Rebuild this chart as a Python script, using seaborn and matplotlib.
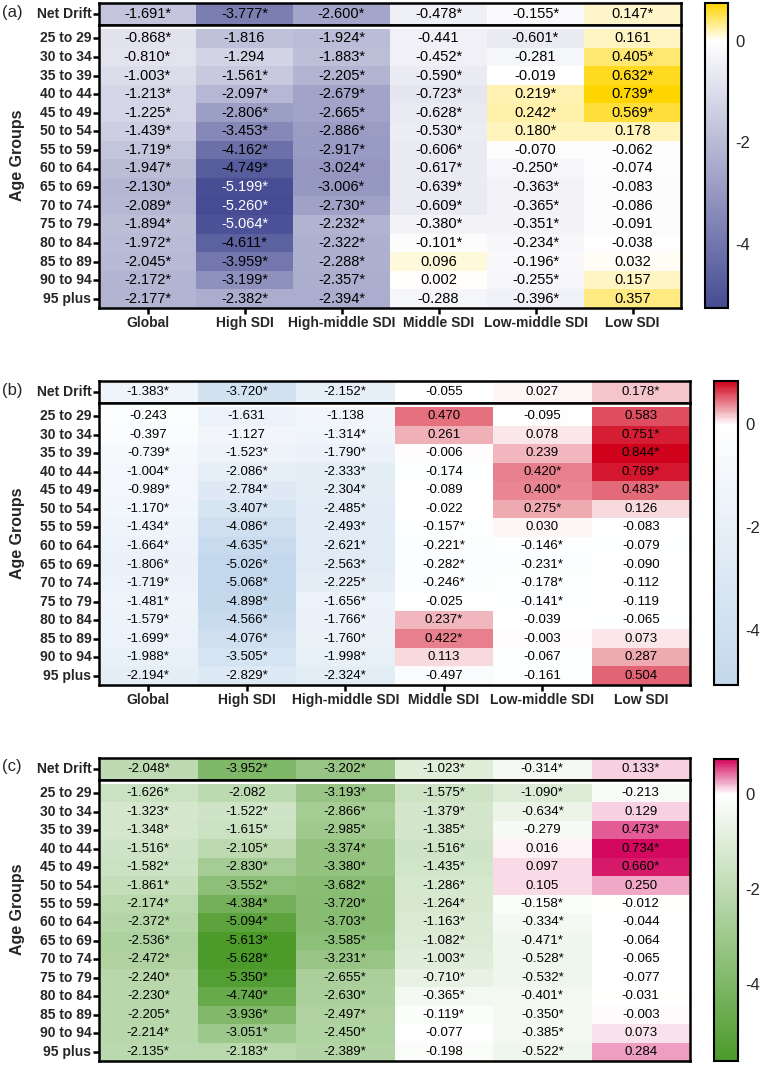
import numpy as np
import matplotlib
matplotlib.use('Agg')
import matplotlib.pyplot as plt
import seaborn as sns
from matplotlib.colors import LinearSegmentedColormap

# Data (annotation strings, * = significant)
columns = ['Global', 'High SDI', 'High-middle SDI', 'Middle SDI', 'Low-middle SDI', 'Low SDI']
age_groups = ['25 to 29', '30 to 34', '35 to 39', '40 to 44', '45 to 49', '50 to 54',
              '55 to 59', '60 to 64', '65 to 69', '70 to 74', '75 to 79', '80 to 84',
              '85 to 89', '90 to 94', '95 plus']

net_a = ['-1.691*', '-3.777*', '-2.600*', '-0.478*', '-0.155*', '0.147*']
ages_a = [
    ['-0.868*', '-1.816', '-1.924*', '-0.441', '-0.601*', '0.161'],
    ['-0.810*', '-1.294', '-1.883*', '-0.452*', '-0.281', '0.405*'],
    ['-1.003*', '-1.561*', '-2.205*', '-0.590*', '-0.019', '0.632*'],
    ['-1.213*', '-2.097*', '-2.679*', '-0.723*', '0.219*', '0.739*'],
    ['-1.225*', '-2.806*', '-2.665*', '-0.628*', '0.242*', '0.569*'],
    ['-1.439*', '-3.453*', '-2.886*', '-0.530*', '0.180*', '0.178'],
    ['-1.719*', '-4.162*', '-2.917*', '-0.606*', '-0.070', '-0.062'],
    ['-1.947*', '-4.749*', '-3.024*', '-0.617*', '-0.250*', '-0.074'],
    ['-2.130*', '-5.199*', '-3.006*', '-0.639*', '-0.363*', '-0.083'],
    ['-2.089*', '-5.260*', '-2.730*', '-0.609*', '-0.365*', '-0.086'],
    ['-1.894*', '-5.064*', '-2.232*', '-0.380*', '-0.351*', '-0.091'],
    ['-1.972*', '-4.611*', '-2.322*', '-0.101*', '-0.234*', '-0.038'],
    ['-2.045*', '-3.959*', '-2.288*', '0.096', '-0.196*', '0.032'],
    ['-2.172*', '-3.199*', '-2.357*', '0.002', '-0.255*', '0.157'],
    ['-2.177*', '-2.382*', '-2.394*', '-0.288', '-0.396*', '0.357'],
]

net_b = ['-1.383*', '-3.720*', '-2.152*', '-0.055', '0.027', '0.178*']
ages_b = [
    ['-0.243', '-1.631', '-1.138', '0.470', '-0.095', '0.583'],
    ['-0.397', '-1.127', '-1.314*', '0.261', '0.078', '0.751*'],
    ['-0.739*', '-1.523*', '-1.790*', '-0.006', '0.239', '0.844*'],
    ['-1.004*', '-2.086*', '-2.333*', '-0.174', '0.420*', '0.769*'],
    ['-0.989*', '-2.784*', '-2.304*', '-0.089', '0.400*', '0.483*'],
    ['-1.170*', '-3.407*', '-2.485*', '-0.022', '0.275*', '0.126'],
    ['-1.434*', '-4.086*', '-2.493*', '-0.157*', '0.030', '-0.083'],
    ['-1.664*', '-4.635*', '-2.621*', '-0.221*', '-0.146*', '-0.079'],
    ['-1.806*', '-5.026*', '-2.563*', '-0.282*', '-0.231*', '-0.090'],
    ['-1.719*', '-5.068*', '-2.225*', '-0.246*', '-0.178*', '-0.112'],
    ['-1.481*', '-4.898*', '-1.656*', '-0.025', '-0.141*', '-0.119'],
    ['-1.579*', '-4.566*', '-1.766*', '0.237*', '-0.039', '-0.065'],
    ['-1.699*', '-4.076*', '-1.760*', '0.422*', '-0.003', '0.073'],
    ['-1.988*', '-3.505*', '-1.998*', '0.113', '-0.067', '0.287'],
    ['-2.194*', '-2.829*', '-2.324*', '-0.497', '-0.161', '0.504'],
]

net_c = ['-2.048*', '-3.952*', '-3.202*', '-1.023*', '-0.314*', '0.133*']
ages_c = [
    ['-1.626*', '-2.082', '-3.193*', '-1.575*', '-1.090*', '-0.213'],
    ['-1.323*', '-1.522*', '-2.866*', '-1.379*', '-0.634*', '0.129'],
    ['-1.348*', '-1.615*', '-2.985*', '-1.385*', '-0.279', '0.473*'],
    ['-1.516*', '-2.105*', '-3.374*', '-1.516*', '0.016', '0.734*'],
    ['-1.582*', '-2.830*', '-3.380*', '-1.435*', '0.097', '0.660*'],
    ['-1.861*', '-3.552*', '-3.682*', '-1.286*', '0.105', '0.250'],
    ['-2.174*', '-4.384*', '-3.720*', '-1.264*', '-0.158*', '-0.012'],
    ['-2.372*', '-5.094*', '-3.703*', '-1.163*', '-0.334*', '-0.044'],
    ['-2.536*', '-5.613*', '-3.585*', '-1.082*', '-0.471*', '-0.064'],
    ['-2.472*', '-5.628*', '-3.231*', '-1.003*', '-0.528*', '-0.065'],
    ['-2.240*', '-5.350*', '-2.655*', '-0.710*', '-0.532*', '-0.077'],
    ['-2.230*', '-4.740*', '-2.630*', '-0.365*', '-0.401*', '-0.031'],
    ['-2.205*', '-3.936*', '-2.497*', '-0.119*', '-0.350*', '-0.003'],
    ['-2.214*', '-3.051*', '-2.450*', '-0.077', '-0.385*', '0.073'],
    ['-2.135*', '-2.183*', '-2.389*', '-0.198', '-0.522*', '0.284'],
]

W, H = 763, 1065


def rect(x0, y0, x1, y1):
    """Pixel box (top-left origin) -> figure fraction rect."""
    return [x0 / W, 1 - y1 / H, (x1 - x0) / W, (y1 - y0) / H]


def to_num(labels):
    return np.array([[float(s.rstrip('*')) for s in row] for row in labels])


def style_spines(ax):
    for s in ax.spines.values():
        s.set_visible(True)
        s.set_color('black')
        s.set_linewidth(1.8)


def draw_panel(fig, net, ages, neg_col, pos_col, box, cbox, tag, annot_size, show_x, white_below=None):
    left, right, top, sep, bottom = box
    net_vals = to_num([net])
    age_vals = to_num(ages)
    vmin = min(net_vals.min(), age_vals.min())
    vmax = max(net_vals.max(), age_vals.max())
    z = -vmin / (vmax - vmin)
    cmap = LinearSegmentedColormap.from_list(tag, [(0, neg_col), (z, 'white'), (1, pos_col)])

    ax_net = fig.add_axes(rect(left, top, right, sep))
    ax_age = fig.add_axes(rect(left, sep, right, bottom))
    cax = fig.add_axes(rect(*cbox))

    kw = dict(cmap=cmap, vmin=vmin, vmax=vmax, fmt='',
              annot_kws={'size': annot_size, 'color': 'black'})
    sns.heatmap(net_vals, annot=np.array([net]), ax=ax_net, cbar=False,
                xticklabels=False, yticklabels=['Net Drift'], **kw)
    sns.heatmap(age_vals, annot=np.array(ages), ax=ax_age, cbar=True, cbar_ax=cax,
                xticklabels=columns, yticklabels=age_groups, **kw)
    cbar = ax_age.collections[0].colorbar

    # white band under the separator line
    gap = 4.0
    rowh = (bottom - sep - gap) / 15
    ax_age.set_ylim(15, -gap / rowh)

    for ax in (ax_net, ax_age):
        style_spines(ax)
        ax.tick_params(axis='y', left=True, length=4.5, width=1.8, color='black', pad=1,
                       labelsize=10, rotation=0)
        for t in ax.get_yticklabels():
            t.set_fontweight('bold')
    ax_net.tick_params(axis='x', bottom=False)
    if show_x:
        ax_age.tick_params(axis='x', bottom=True, length=4, width=1.8, color='black', pad=2,
                           labelsize=10, rotation=0)
        for t in ax_age.get_xticklabels():
            t.set_fontweight('bold')
    else:
        ax_age.set_xticks([])

    if white_below is not None:
        for t in ax_age.texts:
            if float(t.get_text().rstrip('*')) < white_below:
                t.set_color('white')

    cbar.set_ticks([0, -2, -4])
    cbar.set_ticklabels(['0', '-2', '-4'])
    cax.tick_params(direction='in', left=True, right=True, labelleft=False, labelright=True,
                    length=4, width=1.5, labelsize=12, pad=5, color='black')
    cbar.outline.set_linewidth(1.5)
    cbar.outline.set_edgecolor('black')

    fig.text(2 / W, 1 - (top + 9) / H, '(' + tag + ')', fontsize=12, va='center', ha='left')
    fig.text(18 / W, 1 - ((top + bottom) / 2) / H, 'Age Groups', rotation=90, fontsize=11.5,
             fontweight='bold', va='center', ha='center')


sns.set_style('white')
plt.rcParams['font.family'] = ['Liberation Sans', 'DejaVu Sans']
plt.rcParams['axes.unicode_minus'] = False

fig = plt.figure(figsize=(W / 100, H / 100), dpi=100)

draw_panel(fig, net_a, ages_a, '#464B93', '#FFD500', (99, 681, 3, 25, 308),
           (705, 3, 728, 308), 'a', 10.5, True, white_below=-5.0)
draw_panel(fig, net_b, ages_b, '#C3D8EC', '#D0021B', (99, 690, 381, 403, 685),
           (714, 381, 738, 685), 'b', 9.5, True)
draw_panel(fig, net_c, ages_c, '#4B9A2A', '#D4085F', (99, 690, 758, 780, 1061),
           (714, 759, 738, 1061), 'c', 9.5, False)

fig.savefig('out.png', dpi=100)
